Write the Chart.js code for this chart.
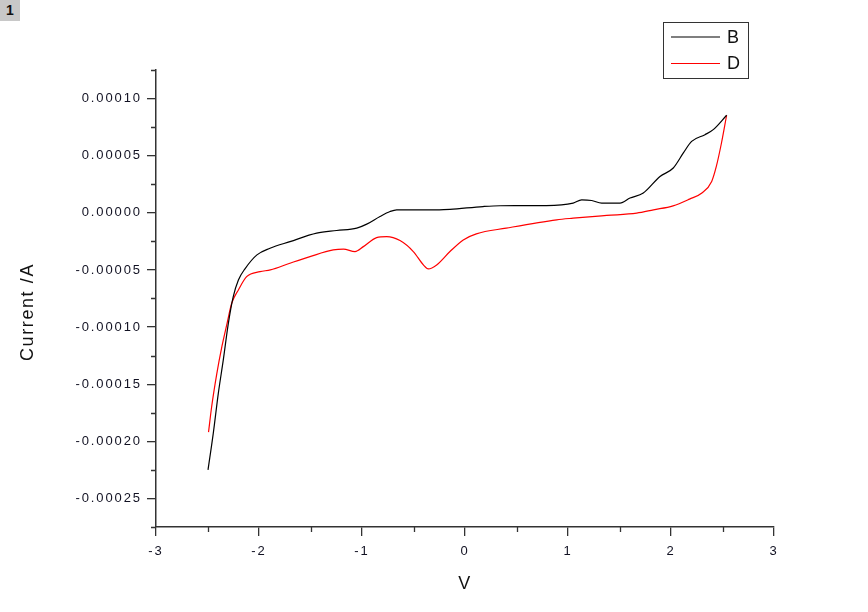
<!DOCTYPE html>
<html>
<head>
<meta charset="utf-8">
<script src="https://cdn.jsdelivr.net/npm/chart.js@4.4.1/dist/chart.umd.min.js"></script>
<style>
  html, body { margin: 0; padding: 0; background: #fff; }
  #wrap { position: relative; width: 868px; height: 612px; }
  #badge { position: absolute; left: 0; top: 0; width: 20px; height: 21px; background: #c8c8c8;
           font: bold 14px "Liberation Sans", Arial, sans-serif; color: #111; text-align: center; line-height: 21px; }
</style>
</head>
<body>
<div id="wrap">
  <canvas id="c" width="868" height="612"></canvas>
  <div id="badge">1</div>
</div>
<script>
// ---- data ----
const seriesNames = ["B", "D"];
const seriesColors = ["#000000", "#ff0000"];

const vB = [-2.495, -2.444, -2.395, -2.347, -2.298, -2.25, -2.20, -2.136, -2.02, -1.893, -1.699, -1.44, -1.246, -1.051, -0.954, -0.825, -0.728, -0.663, -0.25, -0.146, 0.175, 0.34, 0.79, 1.05, 1.133, 1.23, 1.327, 1.505, 1.602, 1.731, 1.893, 2.022, 2.12, 2.20, 2.33, 2.41, 2.54];
const iB = [-0.000225, -0.000193, -0.000158, -0.000129, -0.000097, -0.0000734, -0.0000588, -0.000049, -0.0000368, -0.000031, -0.0000252, -0.0000178, -0.0000155, -0.0000134, -0.0000099, -0.0000032, 0.0000011, 0.0000026, 0.0000026, 0.0000030, 0.0000055, 0.0000062, 0.0000063, 0.0000085, 0.0000114, 0.0000108, 0.0000085, 0.0000085, 0.0000129, 0.0000173, 0.0000318, 0.0000392, 0.0000524, 0.0000625, 0.0000684, 0.0000728, 0.0000854];

const vD = [-2.49, -2.46, -2.41, -2.36, -2.31, -2.265, -2.2, -2.12, -1.99, -1.89, -1.70, -1.505, -1.279, -1.18, -1.068, -0.987, -0.858, -0.76, -0.631, -0.502, -0.404, -0.356, -0.275, -0.146, -0.017, 0.11, 0.40, 0.89, 1.05, 1.376, 1.667, 1.83, 2.02, 2.18, 2.30, 2.395, 2.44, 2.49, 2.54];
const iD = [-0.000192, -0.00017, -0.000141, -0.000117, -0.0000968, -0.0000792, -0.0000675, -0.0000559, -0.0000515, -0.00005, -0.0000441, -0.0000383, -0.0000325, -0.0000318, -0.0000339, -0.0000296, -0.0000217, -0.0000208, -0.0000243, -0.0000339, -0.0000456, -0.0000491, -0.0000456, -0.0000339, -0.0000237, -0.0000184, -0.0000134, -0.0000061, -0.0000047, -0.0000023, -0.0000003, 0.0000026, 0.0000061, 0.000012, 0.0000173, 0.0000275, 0.0000406, 0.0000611, 0.0000854];

const xMajorTicks = [-3, -2, -1, 0, 1, 2, 3];
const xMinorTicks = [-2.5, -1.5, -0.5, 0.5, 1.5, 2.5];
const yMajorTicks = [-0.00025, -0.0002, -0.00015, -0.0001, -0.00005, 0, 0.00005, 0.0001];
const yMinorTicks = [-0.000275, -0.000225, -0.000175, -0.000125, -0.000075, -0.000025, 0.000025, 0.000075, 0.000125];
const xTitle = "V";
const yTitle = "Current /A";

// ---- chart ----
const FONT = '"Liberation Sans", Arial, sans-serif';
const SPACING = '1.9px';

function toPoints(xs, ys) { return xs.map((x, i) => ({ x: x, y: ys[i] })); }

const decorPlugin = {
  id: 'decor',
  beforeDraw(chart) {
    chart.ctx.letterSpacing = SPACING;
  },
  afterDraw(chart) {
    const ctx = chart.ctx;
    const xs = chart.scales.x, ys = chart.scales.y;
    ctx.save();
    // minor ticks
    ctx.strokeStyle = '#333';
    ctx.lineWidth = 1.3;
    ctx.beginPath();
    xMinorTicks.forEach(v => {
      const px = Math.round(xs.getPixelForValue(v)) + 0.5;
      ctx.moveTo(px, xs.top); ctx.lineTo(px, xs.top + 5);
    });
    yMinorTicks.forEach(v => {
      const py = Math.round(ys.getPixelForValue(v)) + 0.5;
      ctx.moveTo(ys.right, py); ctx.lineTo(ys.right - 5, py);
    });
    ctx.stroke();
    // axis titles
    ctx.letterSpacing = '1.6px';
    ctx.fillStyle = '#111';
    ctx.font = '18px ' + FONT;
    ctx.textAlign = 'center';
    ctx.textBaseline = 'middle';
    ctx.fillText(xTitle, (xs.left + xs.right) / 2, 584);
    ctx.save();
    ctx.translate(28, 312);
    ctx.rotate(-Math.PI / 2);
    ctx.fillText(yTitle, 0, 0);
    ctx.restore();
    // legend
    ctx.strokeStyle = '#333';
    ctx.lineWidth = 1;
    ctx.strokeRect(663.5, 22.5, 85, 56);
    ctx.font = '18px ' + FONT;
    ctx.textAlign = 'left';
    chart.data.datasets.forEach((ds, i) => {
      const y = 37 + i * 26.5;
      ctx.strokeStyle = ds.borderColor;
      ctx.lineWidth = 1.2;
      ctx.beginPath();
      ctx.moveTo(671, y); ctx.lineTo(720, y);
      ctx.stroke();
      ctx.fillStyle = '#111';
      ctx.fillText(ds.label, 727, y + 1);
    });
    ctx.restore();
  }
};

const ctx = document.getElementById('c').getContext('2d');
new Chart(ctx, {
  type: 'scatter',
  data: {
    datasets: [
      { label: seriesNames[0], data: toPoints(vB, iB), borderColor: seriesColors[0], backgroundColor: seriesColors[0],
        showLine: true, pointRadius: 0, borderWidth: 1.2, cubicInterpolationMode: 'monotone' },
      { label: seriesNames[1], data: toPoints(vD, iD), borderColor: seriesColors[1], backgroundColor: seriesColors[1],
        showLine: true, pointRadius: 0, borderWidth: 1.2, cubicInterpolationMode: 'monotone' }
    ]
  },
  options: {
    responsive: false,
    animation: false,
    devicePixelRatio: 1,
    layout: { padding: { left: 0, top: 70, right: 94, bottom: 0 } },
    plugins: { legend: { display: false }, tooltip: { enabled: false } },
    scales: {
      x: {
        type: 'linear', position: 'bottom', min: -3, max: 3,
        afterBuildTicks: s => { s.ticks = xMajorTicks.map(v => ({ value: v })); },
        afterFit: s => { s.height = 85; },
        border: { display: true, color: '#333', width: 1.5 },
        grid: { drawOnChartArea: false, drawTicks: true, tickLength: 9, color: '#333', lineWidth: 1.3 },
        ticks: { color: '#111122', padding: 8, maxRotation: 0, font: { family: FONT, size: 13 },
                 callback: v => String(v) }
      },
      y: {
        type: 'linear', position: 'left', min: -0.000275, max: 0.000125,
        afterBuildTicks: s => { s.ticks = yMajorTicks.map(v => ({ value: v })); },
        afterFit: s => { s.width = 156; },
        border: { display: true, color: '#333', width: 1.5 },
        grid: { drawOnChartArea: false, drawTicks: true, tickLength: 9, color: '#333', lineWidth: 1.3 },
        ticks: { color: '#111122', padding: 5, font: { family: FONT, size: 13 },
                 callback: v => (Math.abs(v) < 1e-12 ? 0 : v).toFixed(5) }
      }
    }
  },
  plugins: [decorPlugin]
});
</script>
</body>
</html>
